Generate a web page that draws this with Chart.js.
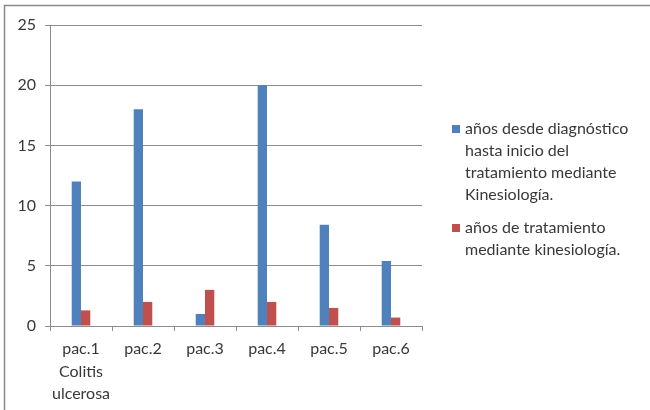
<!DOCTYPE html>
<html>
<head>
<meta charset="utf-8">
<script src="https://cdn.jsdelivr.net/npm/chart.js@4.4.0/dist/chart.umd.min.js"></script>
<style>
  html, body { margin: 0; padding: 0; background: #fff; }
  #wrap { position: relative; width: 650px; height: 410px; }
</style>
</head>
<body>
<div id="wrap"><canvas id="barChart" width="650" height="410"></canvas></div>
<script>
// datos
const pacientes = [["pac.1", "Colitis", "ulcerosa"], "pac.2", "pac.3", "pac.4", "pac.5", "pac.6"];
const aniosDiagnostico = [12, 18, 1, 20, 8.4, 5.4];
const aniosTratamiento = [1.3, 2, 3, 2, 1.5, 0.7];
const yTicks = [0, 5, 10, 15, 20, 25];

const serieNombres = [
    ["años desde diagnóstico", "hasta inicio del", "tratamiento mediante", "Kinesiología."],
    ["años de tratamiento", "mediante kinesiología."]
];
const azul = "#4f81bd";
const rojo = "#c0504d";
const gris = "#8c8c8c";
const texto = "#383838";
const fuente = "Lato";

// leyenda a la derecha con textos en varias líneas + marco
const leyenda = {
    id: "leyenda",
    afterDraw(chart) {
        const c = chart.ctx;
        c.save();
        // marco
        c.strokeStyle = "#8a8a8a";
        c.lineWidth = 1.5;
        c.beginPath();
        c.moveTo(660, 5.5);
        c.lineTo(4.5, 5.5);
        c.lineTo(4.5, 420);
        c.stroke();

        c.font = "16px " + fuente;
        c.textBaseline = "middle";
        let y = 129;
        chart.data.datasets.forEach((ds, i) => {
            c.fillStyle = ds.backgroundColor;
            c.fillRect(452, y - 4, 8, 8);
            c.fillStyle = texto;
            serieNombres[i].forEach((t, k) => {
                c.fillText(t, 465, y + k * 22);
            });
            y += serieNombres[i].length * 22 + 11;
        });
        c.restore();
    }
};

const ctx = document.getElementById("barChart").getContext("2d");
const barChart = new Chart(ctx, {
    type: "bar",
    data: {
        labels: pacientes,
        datasets: [{
            label: serieNombres[0].join(" "),
            data: aniosDiagnostico,
            backgroundColor: azul,
            categoryPercentage: 0.3,
            barPercentage: 1
        }, {
            label: serieNombres[1].join(" "),
            data: aniosTratamiento,
            backgroundColor: rojo,
            categoryPercentage: 0.3,
            barPercentage: 1
        }]
    },
    options: {
        responsive: false,
        animation: false,
        layout: { padding: { left: 0, right: 228, top: 25, bottom: 0 } },
        plugins: {
            legend: { display: false },
            tooltip: { enabled: false }
        },
        scales: {
            x: {
                afterFit: (s) => { s.height = 84; },
                grid: {
                    offset: true,
                    drawOnChartArea: false,
                    drawTicks: true,
                    tickLength: 5,
                    color: gris
                },
                border: { color: gris, width: 1 },
                ticks: {
                    color: texto,
                    font: { family: fuente, size: 16, lineHeight: 1.4 },
                    padding: 7,
                    maxRotation: 0,
                    autoSkip: false
                }
            },
            y: {
                min: 0,
                max: 25,
                afterFit: (s) => { s.width = 50; },
                afterBuildTicks: (s) => { s.ticks = yTicks.map(v => ({ value: v })); },
                grid: {
                    color: gris,
                    tickLength: 5
                },
                border: { color: gris, width: 1 },
                ticks: {
                    color: texto,
                    font: { family: fuente, size: 16 },
                    padding: 9
                }
            }
        }
    },
    plugins: [leyenda]
});
</script>
</body>
</html>
